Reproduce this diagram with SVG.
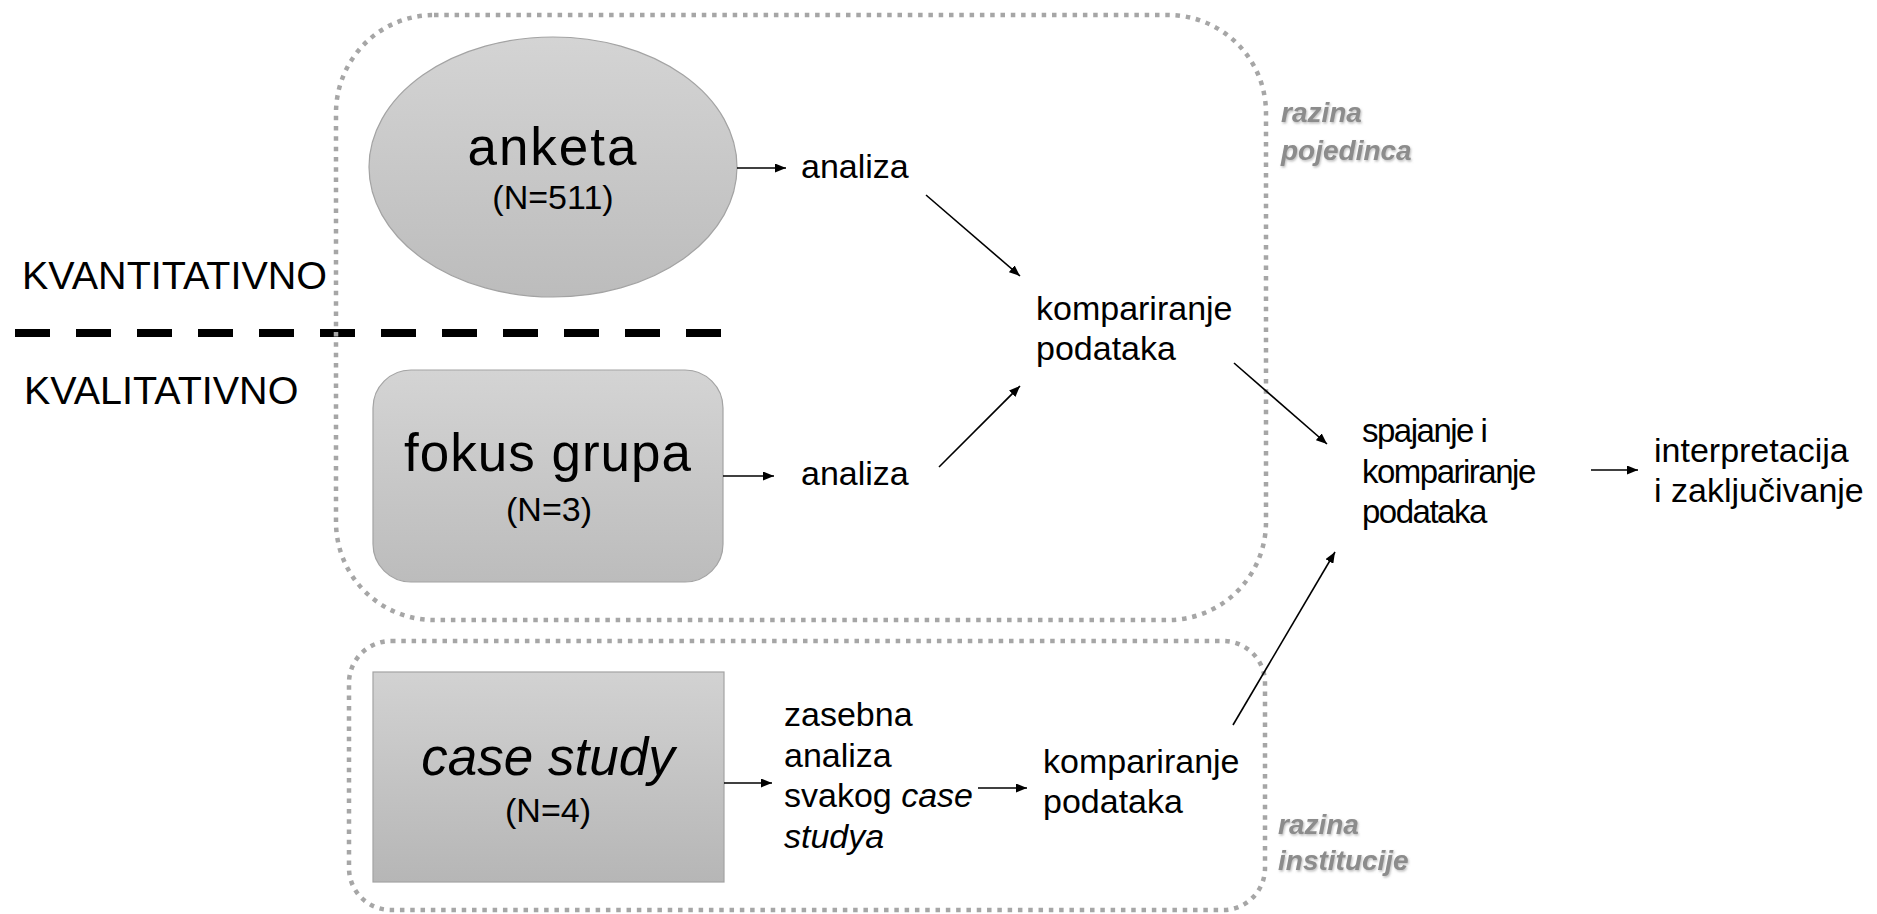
<svg xmlns="http://www.w3.org/2000/svg" width="1877" height="914" viewBox="0 0 1877 914">
<style>
.t{font-family:"Liberation Sans",Arial,sans-serif;font-size:34px;fill:#000}
.big{font-size:53px}
.n{font-size:34px}
.lbl{font-family:"Liberation Sans",Arial,sans-serif;font-size:39.5px;fill:#000}
.lvl{font-family:"Liberation Sans",Arial,sans-serif;font-size:28px;font-style:italic;font-weight:bold;fill:#8c8c8c}
.it{font-style:italic}
.cond{font-size:33px;letter-spacing:-1.5px}
.zone{fill:none;stroke:#a6a6a6;stroke-width:4.5;stroke-dasharray:4.5 5.8}
.node{stroke:#a3a3a3;stroke-width:1.2}
.c{stroke:#000;stroke-width:1.6;fill:none;marker-end:url(#ah)}
</style>
<defs>
<linearGradient id="g1" x1="0" y1="0" x2="0" y2="1">
<stop offset="0" stop-color="#d4d4d4"/>
<stop offset="1" stop-color="#bcbcbc"/>
</linearGradient>
<linearGradient id="g2" x1="0" y1="0" x2="0" y2="1">
<stop offset="0" stop-color="#d2d2d2"/>
<stop offset="1" stop-color="#b6b6b6"/>
</linearGradient>
<marker id="ah" markerUnits="userSpaceOnUse" markerWidth="12" markerHeight="9" refX="11" refY="4.5" orient="auto">
<path d="M0,0 L11,4.5 L0,9 z" fill="#000"/>
</marker>
<filter id="sh" x="-10%" y="-20%" width="130%" height="160%">
<feDropShadow dx="1" dy="1.5" stdDeviation="1" flood-color="#7a7a7a" flood-opacity="0.5"/>
</filter>
</defs>
<rect width="1877" height="914" fill="#fff"/>

<g id="divider">
<line x1="15" y1="333" x2="721" y2="333" stroke="#000" stroke-width="8" stroke-dasharray="35 26"/>
<text class="lbl" x="22" y="289">KVANTITATIVNO</text>
<text class="lbl" x="24" y="404">KVALITATIVNO</text>
</g>

<g id="zone-pojedinca">
<rect class="zone" x="336" y="15" width="930" height="605" rx="98" ry="98"/>
<text class="lvl" filter="url(#sh)" x="1281" y="122">razina</text>
<text class="lvl" filter="url(#sh)" x="1281" y="160">pojedinca</text>
</g>

<g id="zone-institucije">
<rect class="zone" x="349" y="641" width="916" height="269" rx="42" ry="42"/>
<text class="lvl" filter="url(#sh)" x="1278" y="834">razina</text>
<text class="lvl" filter="url(#sh)" x="1278" y="870">institucije</text>
</g>

<g id="anketa">
<ellipse class="node" cx="553" cy="167" rx="184" ry="130" fill="url(#g1)"/>
<text class="t big" x="553" y="165" text-anchor="middle" letter-spacing="2">anketa</text>
<text class="t n" x="553" y="209" text-anchor="middle">(N=511)</text>
</g>

<g id="fokus-grupa">
<rect class="node" x="373" y="370" width="350" height="212" rx="38" ry="38" fill="url(#g1)"/>
<text class="t big" x="548" y="471" text-anchor="middle" letter-spacing="1">fokus grupa</text>
<text class="t n" x="549" y="521" text-anchor="middle">(N=3)</text>
</g>

<g id="case-study">
<rect class="node" x="373" y="672" width="351" height="210" fill="url(#g2)"/>
<text class="t big it" x="548" y="775" text-anchor="middle">case study</text>
<text class="t n" x="548" y="822" text-anchor="middle">(N=4)</text>
</g>

<g id="analiza-1">
<text class="t" x="801" y="178">analiza</text>
</g>

<g id="analiza-2">
<text class="t" x="801" y="485">analiza</text>
</g>

<g id="kompariranje-1">
<text class="t" x="1036" y="320">kompariranje</text>
<text class="t" x="1036" y="360">podataka</text>
</g>

<g id="zasebna-analiza">
<text class="t" x="784" y="726">zasebna</text>
<text class="t" x="784" y="767">analiza</text>
<text class="t" x="784" y="807">svakog <tspan class="it">case</tspan></text>
<text class="t it" x="784" y="848">studya</text>
</g>

<g id="kompariranje-2">
<text class="t" x="1043" y="773">kompariranje</text>
<text class="t" x="1043" y="813">podataka</text>
</g>

<g id="spajanje">
<text class="t cond" x="1362" y="442">spajanje i</text>
<text class="t cond" x="1362" y="483">kompariranje</text>
<text class="t cond" x="1362" y="523">podataka</text>
</g>

<g id="interpretacija">
<text class="t" x="1654" y="462">interpretacija</text>
<text class="t" x="1654" y="502">i zaključivanje</text>
</g>

<g id="connectors">
<line class="c" x1="737" y1="168" x2="786" y2="168"/>
<line class="c" x1="926" y1="195" x2="1020" y2="276"/>
<line class="c" x1="723" y1="476" x2="774" y2="476"/>
<line class="c" x1="939" y1="467" x2="1020" y2="386"/>
<line class="c" x1="1234" y1="363" x2="1327" y2="444"/>
<line class="c" x1="724" y1="783" x2="772" y2="783"/>
<line class="c" x1="978" y1="788" x2="1027" y2="788"/>
<line class="c" x1="1233" y1="725" x2="1335" y2="552"/>
<line class="c" x1="1591" y1="470" x2="1638" y2="470"/>
</g>
</svg>
